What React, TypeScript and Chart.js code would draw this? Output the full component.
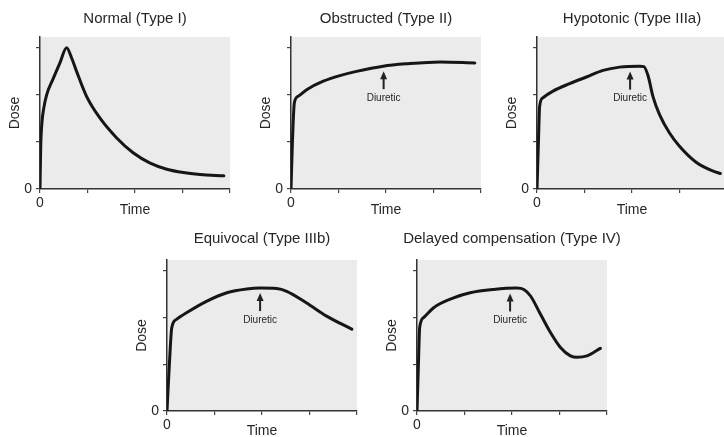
import React, { useEffect, useRef } from 'react';
import { Chart, registerables } from 'chart.js';

Chart.register(...registerables);

// ---- text ----
const panelTitles = [
  'Normal (Type I)',
  'Obstructed (Type II)',
  'Hypotonic (Type IIIa)',
  'Equivocal (Type IIIb)',
  'Delayed compensation (Type IV)',
];
const xAxisLabel = 'Time';
const yAxisLabel = 'Dose';
const zeroTickLabel = '0';
const diureticLabel = 'Diuretic';

// ---- data (time in axis units, dose in axis units) ----
const normalTime = [0, 0.015, 0.04, 0.08, 0.14, 0.28, 0.42, 0.56, 0.66, 0.77, 0.98, 1.26, 1.61, 1.96, 2.32, 2.67, 3.02, 3.37, 3.87];
const normalDose = [0, 0.9, 1.4, 1.72, 2.0, 2.35, 2.68, 3.0, 2.8, 2.5, 1.97, 1.51, 1.09, 0.77, 0.55, 0.42, 0.35, 0.31, 0.28];

const obstructedTime = [0, 0.03, 0.07, 0.15, 0.33, 0.68, 1.03, 1.38, 1.94, 2.43, 3.14, 3.87];
const obstructedDose = [0, 1.0, 1.83, 1.97, 2.11, 2.29, 2.41, 2.5, 2.61, 2.66, 2.7, 2.68];

const hypotonicTime = [0, 0.03, 0.056, 0.126, 0.337, 0.688, 1.04, 1.39, 1.74, 2.16, 2.25, 2.34, 2.44, 2.58, 2.79, 3.0, 3.35, 3.71, 3.86];
const hypotonicDose = [0, 1.0, 1.76, 1.94, 2.08, 2.24, 2.38, 2.52, 2.59, 2.61, 2.6, 2.4, 1.97, 1.58, 1.19, 0.91, 0.57, 0.38, 0.33];

const equivocalTime = [0, 0.05, 0.1, 0.2, 0.41, 0.84, 1.26, 1.68, 1.96, 2.31, 2.52, 2.94, 3.36, 3.89];
const equivocalDose = [0, 1.0, 1.78, 1.96, 2.1, 2.35, 2.53, 2.61, 2.63, 2.62, 2.56, 2.31, 2.03, 1.75];

const delayedTime = [0, 0.03, 0.056, 0.14, 0.35, 0.77, 1.12, 1.61, 2.1, 2.25, 2.39, 2.6, 2.81, 3.02, 3.23, 3.37, 3.58, 3.86];
const delayedDose = [0, 1.0, 1.78, 2.0, 2.21, 2.42, 2.53, 2.6, 2.63, 2.6, 2.46, 2.07, 1.68, 1.36, 1.18, 1.15, 1.18, 1.34];

const panelTimes = [normalTime, obstructedTime, hypotonicTime, equivocalTime, delayedTime];
const panelDoses = [normalDose, obstructedDose, hypotonicDose, equivocalDose, delayedDose];

// time at which diuretic is given (null = none)
const diureticTimes: (number | null)[] = [null, 1.95, 1.96, 1.96, 1.96];

const xMin = 0;
const xMax = 4;
const yMin = 0;
const yMax = 3.23;
const tickStep = 1;

// ---- layout (pixels) ----
const FONT = '"Liberation Sans", Arial, Helvetica, sans-serif';
const TEXT = '#262626';
const LINE = '#161616';
const PLOT_BG = '#ebebeb';

type Layout = {
  left: number; top: number; width: number; height: number;
  padTop: number; padRight: number; yw: number; xh: number;
  titleY: number; xTitlePad: number;
};

const row1 = { top: 0, height: 220, padTop: 37, xh: 31, titleY: 19, xTitlePad: 1 };
const row2 = { top: 220, height: 230, padTop: 40, xh: 39, titleY: 18.5, xTitlePad: 10.5 };

const panelLayouts: Layout[] = [
  { left: 0, width: 270, padRight: 40, yw: 40, ...row1 },
  { left: 251, width: 270, padRight: 40, yw: 40, ...row1 },
  { left: 497, width: 270, padRight: 40, yw: 40, ...row1 },
  { left: 127, width: 270, padRight: 40, yw: 40, ...row2 },
  { left: 377, width: 270, padRight: 40, yw: 40, ...row2 },
];

const plotBackground = {
  id: 'plotBackground',
  beforeDraw(chart: any) {
    const { ctx, chartArea } = chart;
    ctx.save();
    ctx.fillStyle = PLOT_BG;
    ctx.fillRect(chartArea.left, chartArea.top, chartArea.right - chartArea.left, chartArea.bottom - chartArea.top);
    ctx.restore();
  },
};

const panelTitle = {
  id: 'panelTitle',
  afterDraw(chart: any, _args: any, opts: any) {
    const { ctx, chartArea } = chart;
    ctx.save();
    ctx.font = `15px ${FONT}`;
    ctx.fillStyle = TEXT;
    ctx.textAlign = 'center';
    ctx.textBaseline = 'middle';
    ctx.fillText(opts.text, (chartArea.left + chartArea.right) / 2, opts.y);
    ctx.restore();
  },
};

function interpolate(xs: number[], ys: number[], x: number) {
  for (let i = 1; i < xs.length; i++) {
    if (x <= xs[i]) {
      const t = (x - xs[i - 1]) / (xs[i] - xs[i - 1]);
      return ys[i - 1] + t * (ys[i] - ys[i - 1]);
    }
  }
  return ys[ys.length - 1];
}

const diuretic = {
  id: 'diuretic',
  afterDatasetsDraw(chart: any, _args: any, opts: any) {
    if (opts.time == null) return;
    const { ctx, scales } = chart;
    const v = interpolate(opts.xs, opts.ys, opts.time);
    const px = scales.x.getPixelForValue(opts.time);
    const py = scales.y.getPixelForValue(v);
    const tip = py + 5;
    const bottom = tip + 18;
    ctx.save();
    ctx.strokeStyle = '#222';
    ctx.fillStyle = '#222';
    ctx.lineWidth = 2;
    ctx.beginPath();
    ctx.moveTo(px, tip + 5);
    ctx.lineTo(px, bottom);
    ctx.stroke();
    ctx.beginPath();
    ctx.moveTo(px, tip);
    ctx.lineTo(px - 3.5, tip + 8);
    ctx.lineTo(px + 3.5, tip + 8);
    ctx.closePath();
    ctx.fill();
    ctx.font = `10px ${FONT}`;
    ctx.fillStyle = TEXT;
    ctx.textAlign = 'center';
    ctx.textBaseline = 'middle';
    ctx.fillText(diureticLabel, px, bottom + 9);
    ctx.restore();
  },
};

function Panel({ index }: { index: number }) {
  const ref = useRef<HTMLCanvasElement>(null);
  const lay = panelLayouts[index];
  useEffect(() => {
    const xs = panelTimes[index];
    const ys = panelDoses[index];
    const points = xs.map((t, i) => ({ x: t, y: ys[i] }));
    const tickCb = (v: any) => (Number(v) === 0 ? zeroTickLabel : '');
    const chart = new Chart(ref.current as HTMLCanvasElement, {
      type: 'line',
      data: {
        datasets: [
          {
            data: points,
            borderColor: LINE,
            borderWidth: 3,
            pointRadius: 0,
            fill: false,
            cubicInterpolationMode: 'monotone',
            borderCapStyle: 'round',
            borderJoinStyle: 'round',
          } as any,
        ],
      },
      options: {
        animation: false,
        responsive: false,
        events: [],
        layout: { padding: { top: lay.padTop, right: lay.padRight, left: 0, bottom: 0 } },
        plugins: {
          legend: { display: false },
          tooltip: { enabled: false },
          title: { display: false },
          panelTitle: { text: panelTitles[index], y: lay.titleY },
          diuretic: { time: diureticTimes[index], xs, ys },
        } as any,
        scales: {
          x: {
            type: 'linear',
            min: xMin,
            max: xMax,
            afterFit: (s: any) => { s.height = lay.xh; },
            ticks: {
              stepSize: tickStep,
              includeBounds: false,
              autoSkip: false,
              maxRotation: 0,
              padding: 2,
              color: TEXT,
              font: { size: 14, family: FONT },
              callback: tickCb,
            },
            grid: { display: true, drawOnChartArea: false, drawTicks: true, tickLength: 4, color: '#444', lineWidth: 1.2 },
            border: { display: true, color: '#333', width: 1.5 },
            title: { display: true, text: xAxisLabel, color: TEXT, font: { size: 14, family: FONT }, padding: { top: 0, bottom: lay.xTitlePad } },
          },
          y: {
            type: 'linear',
            min: yMin,
            max: yMax,
            afterFit: (s: any) => { s.width = lay.yw; },
            ticks: {
              stepSize: tickStep,
              includeBounds: false,
              autoSkip: false,
              padding: 4,
              color: TEXT,
              font: { size: 14, family: FONT },
              callback: tickCb,
            },
            grid: { display: true, drawOnChartArea: false, drawTicks: true, tickLength: 4, color: '#444', lineWidth: 1.2 },
            border: { display: true, color: '#333', width: 1.5 },
            title: { display: true, text: yAxisLabel, color: TEXT, font: { size: 14, family: FONT }, padding: { top: 7, bottom: 0 } },
          },
        } as any,
      },
      plugins: [plotBackground, panelTitle, diuretic],
    });
    return () => chart.destroy();
  }, [index]);
  return (
    <div style={{ position: 'absolute', left: lay.left, top: lay.top, width: lay.width, height: lay.height }}>
      <canvas ref={ref} width={lay.width} height={lay.height} style={{ display: 'block', width: lay.width, height: lay.height }} />
    </div>
  );
}

export default function App() {
  return (
    <div style={{ position: 'fixed', left: 0, top: 0, width: 724, height: 437, overflow: 'hidden', background: '#fff' }}>
      {panelTitles.map((_, i) => (
        <Panel key={i} index={i} />
      ))}
    </div>
  );
}
